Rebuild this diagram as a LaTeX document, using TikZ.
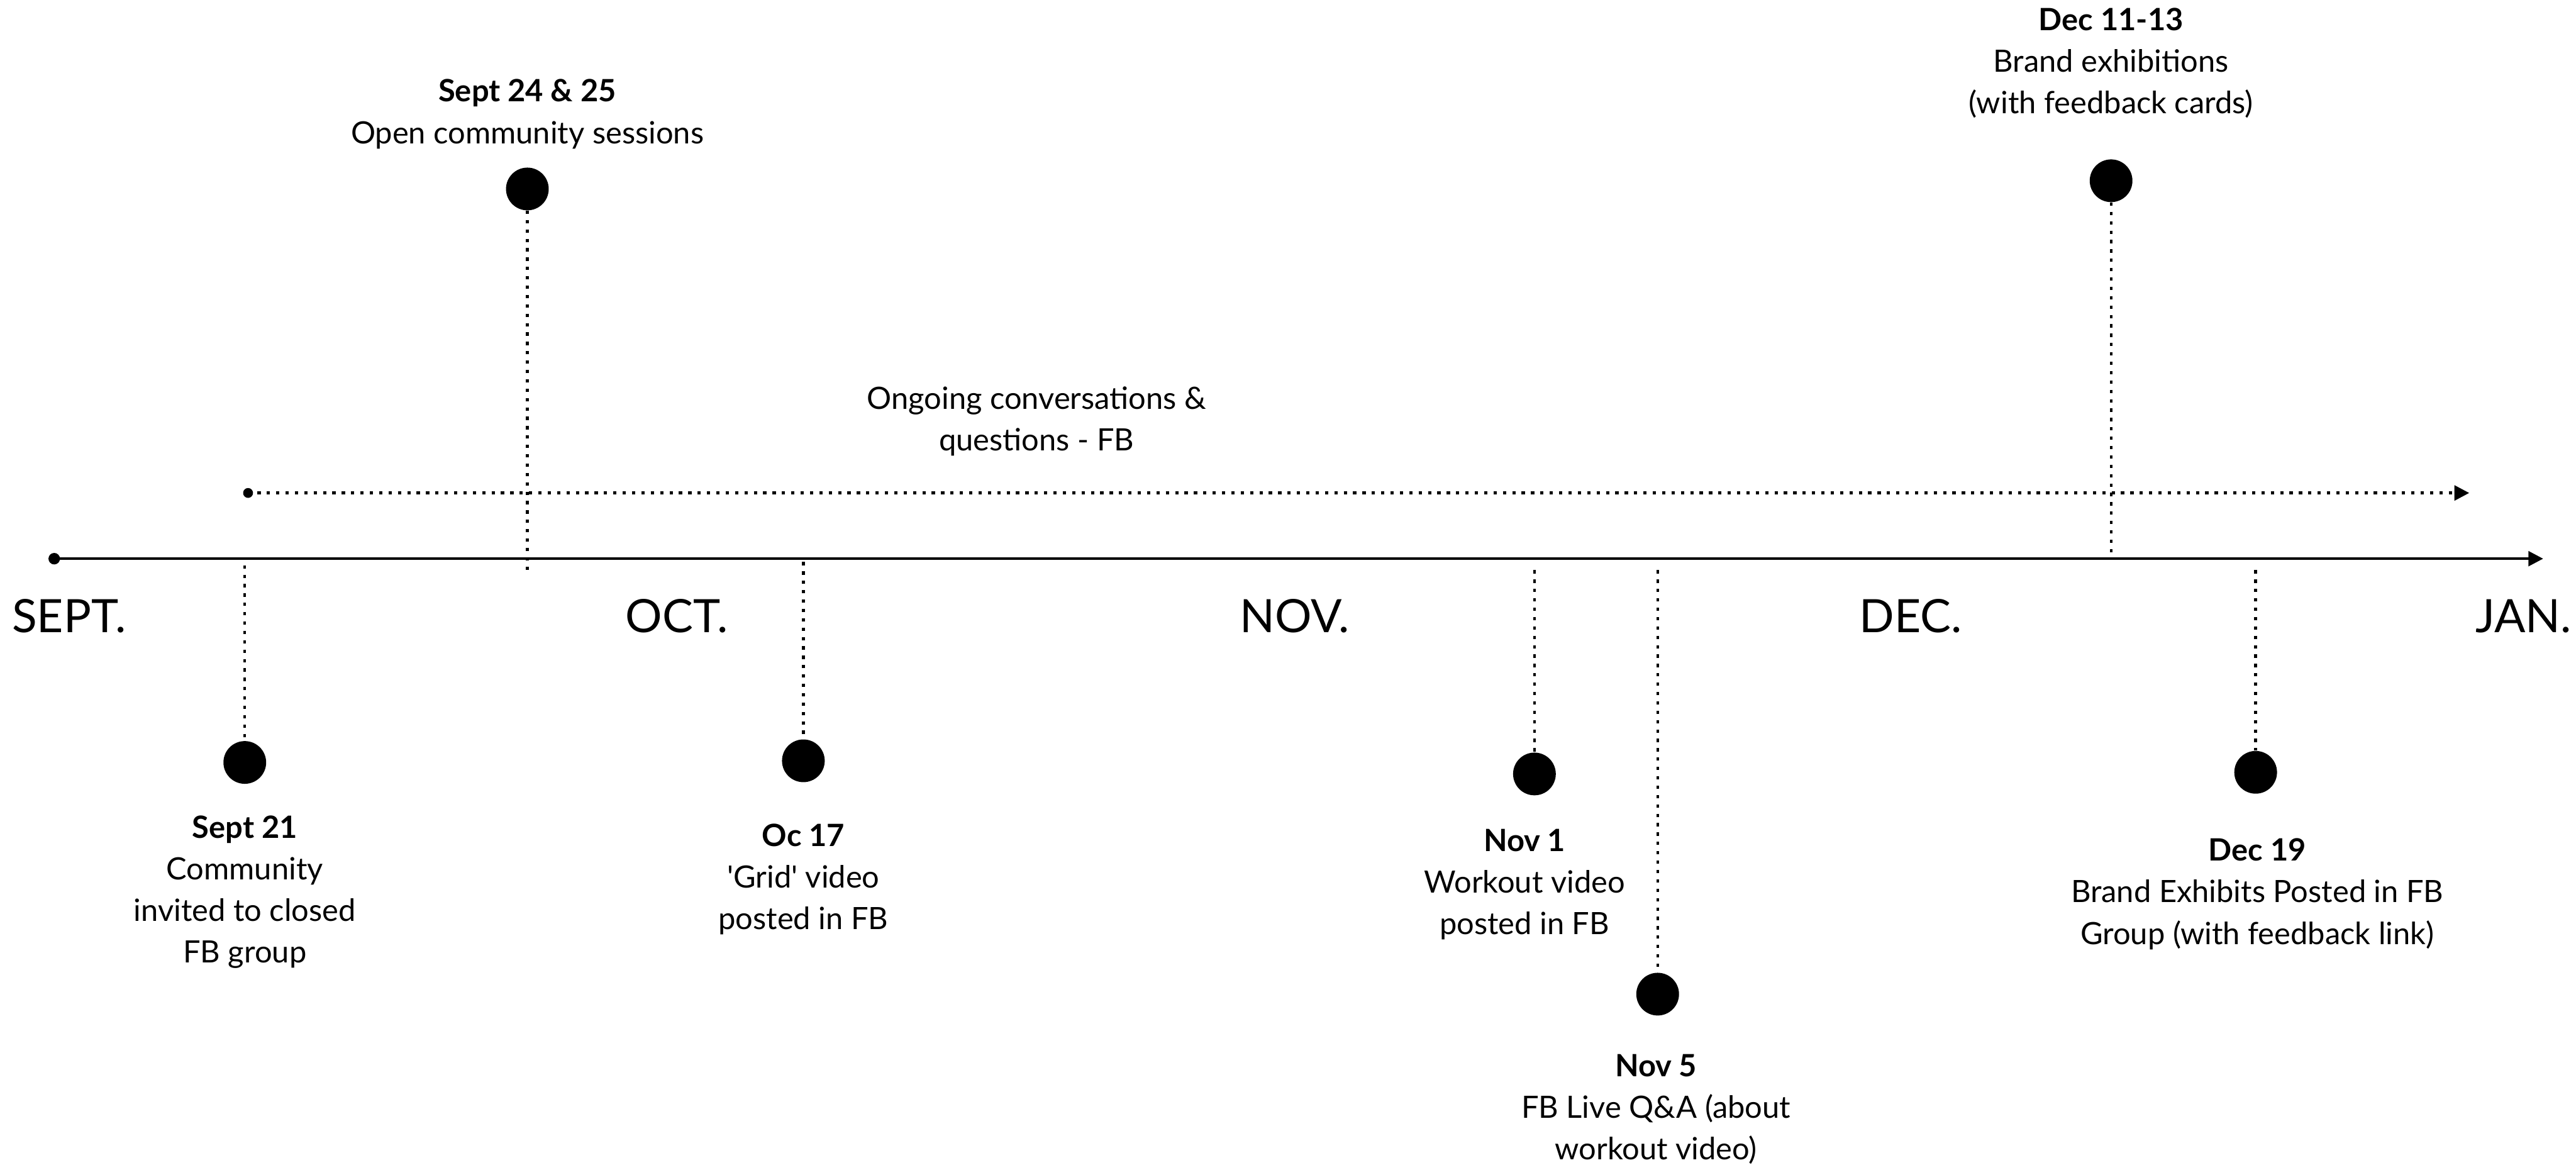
\documentclass[tikz,border=0pt]{standalone}
\usepackage{fontspec}
\setmainfont{Lato}
\newfontfamily\latoplain{Lato}[Ligatures=TeXOff]
\usetikzlibrary{arrows.meta}
\newcommand\evtext[2]{\begin{tabular}[t]{@{}c@{}}\textbf{#1}\\#2\end{tabular}}
\newcommand\plaintext[1]{\begin{tabular}[t]{@{}c@{}}#1\end{tabular}}
\newcommand\sq{{\latoplain'}}
\begin{document}
\begin{tikzpicture}[x=1pt,y=-1pt,
  evdot/.style={circle,fill=black,minimum size=26pt,inner sep=0pt},
  enddot/.style={circle,fill=black,minimum size=#1,inner sep=0pt},
  dotline/.style={line width=1.7pt,dash pattern=on 2pt off 3.7pt},
  axisline/.style={line width=1.6pt,-{Triangle[length=9pt,width=9pt]}},
  month/.style={font=\fontsize{28}{32}\selectfont,anchor=base,inner sep=0pt},
  lbl/.style={font=\fontsize{18.7}{25.3}\selectfont,anchor=base,inner sep=0pt}
]
\useasboundingbox[fill=white] (0,0) rectangle (1568,712);

% main axis
\node[enddot=7pt] (ax0) at (33,340) {};
\coordinate (ax1) at (1548,340);
\draw[axisline] (ax0.center) -- (ax1);

% ongoing dotted arrow
\node[enddot=6pt] (on0) at (151,300) {};
\coordinate (on1) at (1503,300);
\draw[dotline,-{Triangle[length=9pt,width=9pt]}] (on0.center) -- (on1);
\node[lbl] (ongoing) at (631,249) {\plaintext{Ongoing conversations \&\\questions - FB}};

% months
\node[month] (sept) at (42,385) {SEPT.};
\node[month] (oct) at (412,385) {OCT.};
\node[month] (nov) at (788,385) {NOV.};
\node[month] (dec) at (1163,385) {DEC.};
\node[month] (jan) at (1536,385) {JAN.};

% Sept 24 & 25 (above)
\node[evdot] (e2) at (321,115) {};
\coordinate (e2a) at (321,348);
\draw[dotline] (e2) -- (e2a);
\node[lbl] (t2) at (321,62) {\evtext{Sept 24 \& 25}{Open community sessions}};

% Dec 11-13 (above)
\node[evdot] (e6) at (1285,110) {};
\coordinate (e6a) at (1285,340);
\draw[dotline] (e6) -- (e6a);
\node[lbl] (t6) at (1285,18.5) {\evtext{Dec 11-13}{Brand exhibitions\\(with feedback cards)}};

% Sept 21 (below)
\node[evdot] (e1) at (149,464) {};
\coordinate (e1a) at (149,344);
\draw[dotline] (e1a) -- (e1);
\node[lbl] (t1) at (149,510) {\evtext{Sept 21}{Community\\invited to closed\\FB group}};

% Oc 17 (below)
\node[evdot] (e3) at (489,463) {};
\coordinate (e3a) at (489,342);
\draw[dotline] (e3a) -- (e3);
\node[lbl] (t3) at (489,515) {\evtext{Oc 17}{\sq Grid\sq{} video\\posted in FB}};

% Nov 1 (below)
\node[evdot] (e4) at (934,471) {};
\coordinate (e4a) at (934,347);
\draw[dotline] (e4a) -- (e4);
\node[lbl] (t4) at (928,518) {\evtext{Nov 1}{Workout video\\posted in FB}};

% Nov 5 (below)
\node[evdot] (e5) at (1009,605) {};
\coordinate (e5a) at (1009,347);
\draw[dotline] (e5a) -- (e5);
\node[lbl] (t5) at (1008,655) {\evtext{Nov 5}{FB Live Q\&A (about\\workout video)}};

% Dec 19 (below)
\node[evdot] (e7) at (1373,470) {};
\coordinate (e7a) at (1373,347);
\draw[dotline] (e7a) -- (e7);
\node[lbl] (t7) at (1374,524) {\evtext{Dec 19}{Brand Exhibits Posted in FB\\Group (with feedback link)}};
\end{tikzpicture}
\end{document}
